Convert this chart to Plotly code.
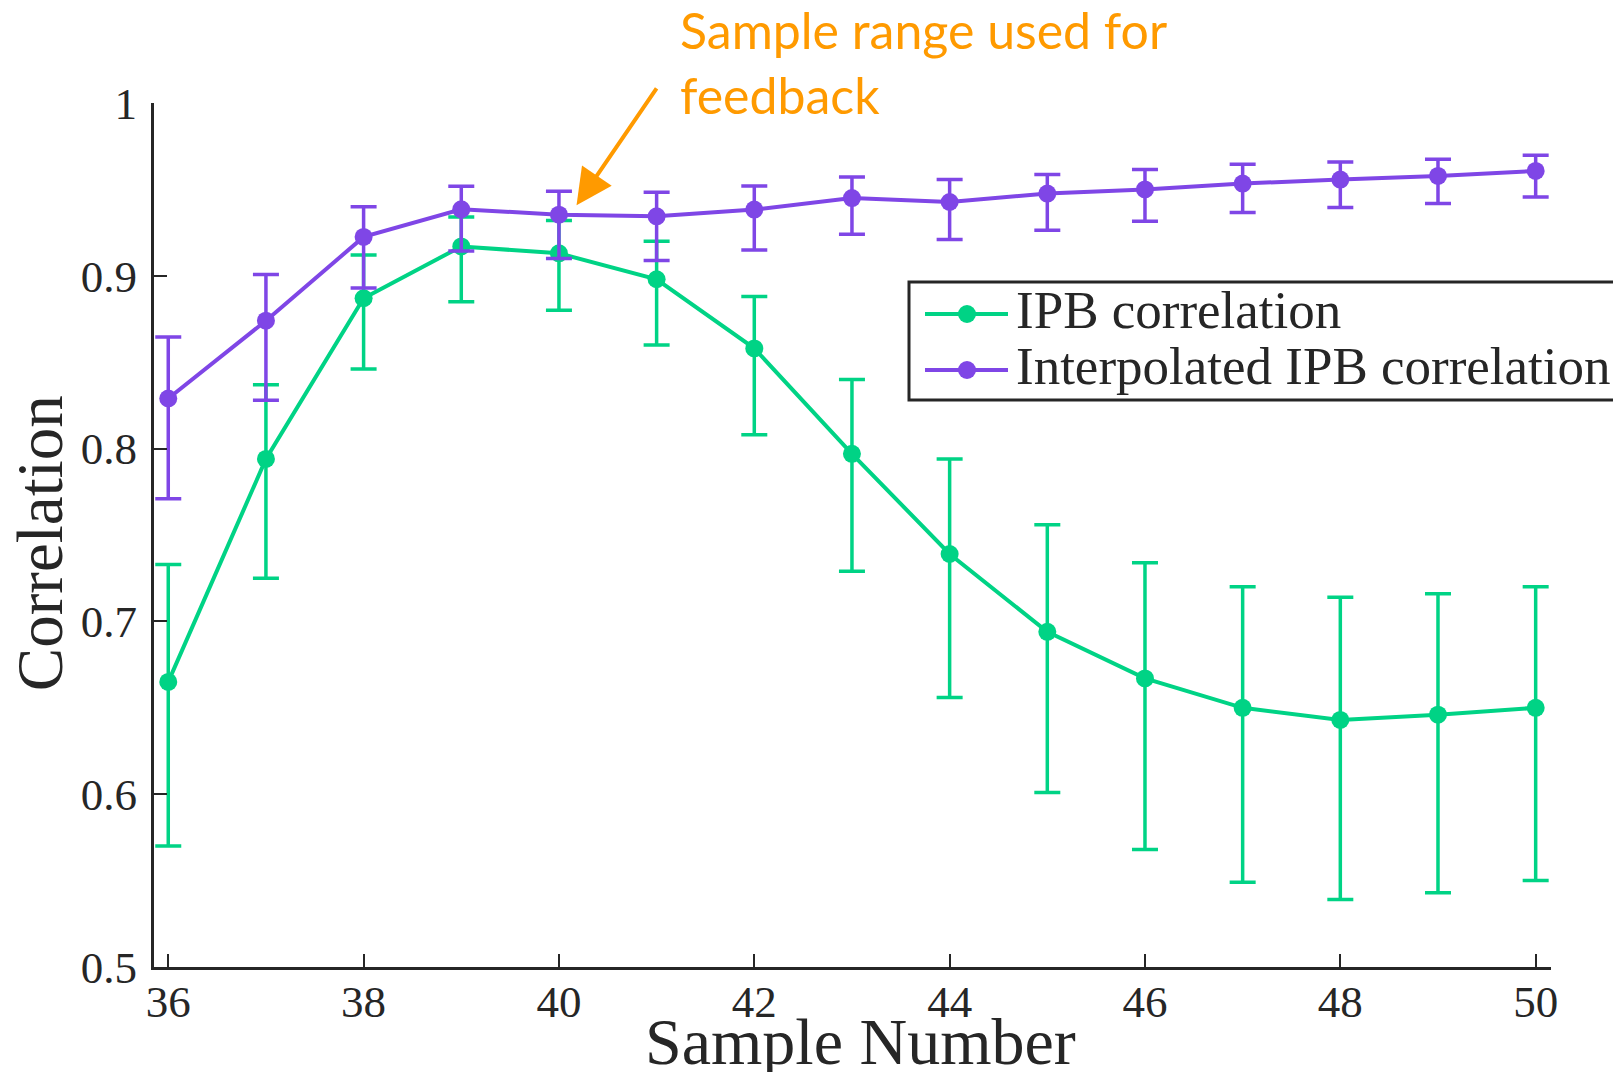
import plotly.graph_objects as go

sample_number = [36, 37, 38, 39, 40, 41, 42, 43, 44, 45, 46, 47, 48, 49, 50]

ipb_mean = [0.665, 0.794, 0.887, 0.917, 0.913, 0.898, 0.858, 0.797, 0.739, 0.694, 0.667, 0.650, 0.643, 0.646, 0.650]
ipb_upper = [0.733, 0.837, 0.912, 0.934, 0.932, 0.920, 0.888, 0.840, 0.794, 0.756, 0.734, 0.720, 0.714, 0.716, 0.720]
ipb_lower = [0.570, 0.725, 0.846, 0.885, 0.880, 0.860, 0.808, 0.729, 0.656, 0.601, 0.568, 0.549, 0.539, 0.543, 0.550]

interp_mean = [0.829, 0.874, 0.9225, 0.9385, 0.9354, 0.9344, 0.9383, 0.945, 0.9427, 0.9476, 0.950, 0.9534, 0.9557, 0.9578, 0.9607]
interp_upper = [0.8646, 0.9007, 0.940, 0.9518, 0.949, 0.9483, 0.952, 0.9572, 0.9557, 0.9586, 0.9615, 0.9645, 0.9659, 0.9674, 0.9697]
interp_lower = [0.771, 0.828, 0.893, 0.9144, 0.910, 0.9088, 0.915, 0.924, 0.921, 0.9263, 0.9315, 0.9366, 0.9395, 0.9418, 0.9456]

series_names = ["IPB correlation", "Interpolated IPB correlation"]

x_tick_vals = [36, 38, 40, 42, 44, 46, 48, 50]
y_tick_vals = [0.5, 0.6, 0.7, 0.8, 0.9, 1.0]
y_tick_text = ["0.5", "0.6", "0.7", "0.8", "0.9", "1"]

GREEN = "#00D385"
PURPLE = "#7F46E6"
ORANGE = "#FF9A00"
INK = "#262626"
SERIF = "Liberation Serif"

W, H = 1613, 1072
ML, MR, MT, MB = 154, 62, 103, 105
PW, PH = W - ML - MR, H - MT - MB

def px_x(px):
    return (px - ML) / PW

def px_y(py):
    return (H - MB - py) / PH

fig = go.Figure()

def add_series(name, mean, upper, lower, color):
    plus = [u - m for u, m in zip(upper, mean)]
    minus = [m - l for m, l in zip(mean, lower)]
    fig.add_trace(go.Scatter(
        x=sample_number, y=mean, name=name, mode="lines+markers",
        line=dict(color=color, width=4),
        marker=dict(color=color, size=18, symbol="circle"),
        error_y=dict(type="data", symmetric=False, array=plus, arrayminus=minus,
                     color=color, thickness=3.5, width=13),
        cliponaxis=False, showlegend=False,
    ))

add_series(series_names[0], ipb_mean, ipb_upper, ipb_lower, GREEN)
add_series(series_names[1], interp_mean, interp_upper, interp_lower, PURPLE)

fig.update_layout(
    width=W, height=H,
    margin=dict(l=ML, r=MR, t=MT, b=MB, autoexpand=False),
    paper_bgcolor="white", plot_bgcolor="white",
    font=dict(family=SERIF, color=INK),
)

fig.update_xaxes(
    range=[35.854, 50.157], tickmode="array", tickvals=x_tick_vals,
    ticks="inside", ticklen=13, tickwidth=2, tickcolor=INK,
    showline=True, linewidth=3, linecolor=INK, mirror=False,
    showgrid=False, zeroline=False,
    tickfont=dict(family=SERIF, size=45, color=INK),
    ticklabelstandoff=-7,
)
fig.update_yaxes(
    range=[0.5, 1.0], tickmode="array", tickvals=y_tick_vals, ticktext=y_tick_text,
    ticks="inside", ticklen=13, tickwidth=2, tickcolor=INK,
    showline=True, linewidth=3, linecolor=INK, mirror=False,
    showgrid=False, zeroline=False,
    tickfont=dict(family=SERIF, size=45, color=INK),
    ticklabelstandoff=5,
)

# legend box (drawn manually so its size matches the reference)
fig.add_shape(type="rect", xref="paper", yref="paper",
              x0=px_x(909), x1=px_x(1640), y0=px_y(400), y1=px_y(282),
              line=dict(color=INK, width=3), fillcolor="white", layer="above")
row_y = [314, 370]
for name, color, ry in zip(series_names, [GREEN, PURPLE], row_y):
    fig.add_shape(type="line", xref="paper", yref="paper",
                  x0=px_x(925), x1=px_x(1008), y0=px_y(ry), y1=px_y(ry),
                  line=dict(color=color, width=4), layer="above")
    fig.add_shape(type="circle", xref="paper", yref="paper",
                  x0=px_x(958), x1=px_x(976), y0=px_y(ry + 9), y1=px_y(ry - 9),
                  line=dict(color=color, width=0), fillcolor=color, layer="above")
    fig.add_annotation(text=name, xref="paper", yref="paper",
                       x=px_x(1014), y=px_y(ry - 4), xanchor="left", yanchor="middle",
                       showarrow=False, font=dict(family=SERIF, size=53, color=INK))

# axis titles
fig.add_annotation(text="Sample Number", xref="paper", yref="paper",
                   x=0.5054, y=-0.086, xanchor="center", yanchor="middle",
                   showarrow=False, font=dict(family=SERIF, size=66, color=INK))
fig.add_annotation(text="Correlation", xref="paper", yref="paper",
                   x=-0.082, y=0.491, xanchor="center", yanchor="middle", textangle=-90,
                   showarrow=False, font=dict(family=SERIF, size=65, color=INK))

# orange callout
fig.add_annotation(text="Sample range used for<br>feedback", xref="x", yref="paper",
                   x=41.22, y=1.122, xanchor="left", yanchor="top", align="left",
                   showarrow=False, font=dict(family="Lato", size=50, color=ORANGE))
fig.add_annotation(text="", xref="x", yref="y", x=40.18, y=0.9408,
                   axref="x", ayref="y", ax=41.01, ay=1.0094,
                   showarrow=True, arrowhead=2, arrowsize=1.8, arrowwidth=4,
                   arrowcolor=ORANGE)

fig.write_html("out.html")
